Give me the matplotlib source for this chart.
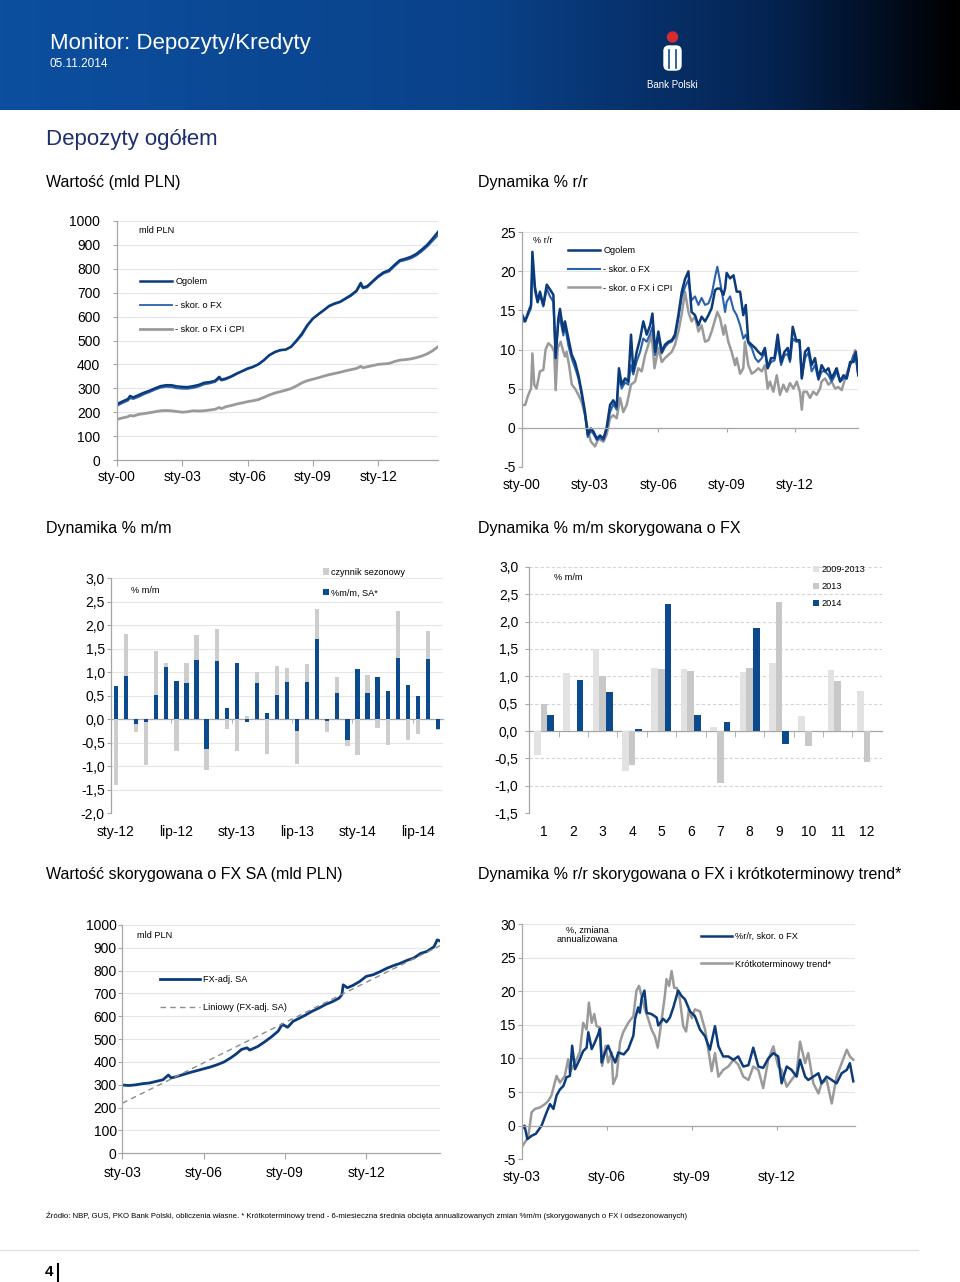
import matplotlib.pyplot as plt
import numpy as np
from matplotlib.colors import LinearSegmentedColormap
from matplotlib.patches import Circle, FancyBboxPatch, Patch
from matplotlib.lines import Line2D

plt.rcParams['font.family'] = ['Liberation Sans', 'DejaVu Sans']

W, H = 960, 1282
NAVY = '#0b3b7a'
BLUE = '#2a62ad'
GREY = '#9a9a9a'
BAR_BLUE = '#0c4a8e'
BAR_GREY = '#cdcdcd'
GRID = '#e6e6e6'
AXC = '#a6a6a6'

# --- Wartość (mld PLN), 2000-2014 ---
t1 = [2000.0, 2000.25, 2000.5, 2000.6, 2000.75, 2001.0, 2001.25, 2001.5, 2001.75, 2002.0,
      2002.25, 2002.5, 2002.75, 2003.0, 2003.25, 2003.5, 2003.75, 2004.0, 2004.25, 2004.5,
      2004.7, 2004.8, 2005.0, 2005.25, 2005.5, 2005.75, 2006.0, 2006.25, 2006.5, 2006.75,
      2007.0, 2007.25, 2007.5, 2007.75, 2008.0, 2008.25, 2008.5, 2008.75, 2009.0, 2009.25,
      2009.5, 2009.75, 2010.0, 2010.25, 2010.5, 2010.75, 2011.0, 2011.2, 2011.3, 2011.5,
      2011.75, 2012.0, 2012.25, 2012.5, 2012.75, 2013.0, 2013.25, 2013.5, 2013.75, 2014.0,
      2014.25, 2014.5, 2014.75]
dep_total = [234, 245, 255, 268, 262, 272, 282, 290, 300, 309, 313, 313, 308, 306, 305, 309,
             314, 323, 326, 331, 348, 336, 341, 350, 362, 372, 383, 390, 401, 418, 439, 452,
             460, 462, 474, 500, 529, 565, 592, 610, 627, 645, 655, 662, 676, 690, 708, 741,
             722, 727, 748, 769, 785, 794, 816, 836, 842, 850, 862, 880, 900, 926, 954]
dep_fx = [226, 238, 248, 258, 255, 264, 275, 284, 294, 302, 306, 305, 300, 298, 298, 301,
          307, 316, 320, 326, 340, 332, 337, 347, 359, 370, 380, 388, 399, 416, 437, 450,
          458, 461, 472, 496, 522, 560, 590, 608, 625, 642, 652, 660, 673, 686, 704, 733,
          718, 722, 744, 764, 780, 788, 810, 830, 836, 843, 855, 872, 892, 916, 940]
dep_cpi = [170, 176, 181, 186, 184, 191, 194, 198, 202, 206, 207, 206, 203, 200, 202, 206,
           205, 206, 209, 212, 220, 215, 223, 228, 234, 239, 244, 248, 253, 262, 272, 280,
           286, 292, 299, 310, 323, 332, 338, 344, 351, 357, 362, 367, 373, 378, 383, 392,
           386, 390, 395, 400, 402, 404, 412, 418, 420, 423, 428, 435, 444, 457, 474]

# --- Dynamika % r/r ---
t2 = [2000.0, 2000.15, 2000.29, 2000.41, 2000.47, 2000.58, 2000.7, 2000.8, 2000.95, 2001.1,
      2001.24, 2001.39, 2001.49, 2001.61, 2001.68, 2001.83, 2001.9, 2002.05, 2002.2, 2002.34,
      2002.49, 2002.63, 2002.78, 2002.9, 2003.04, 2003.15, 2003.3, 2003.44, 2003.59, 2003.73,
      2003.88, 2004.02, 2004.17, 2004.27, 2004.39, 2004.54, 2004.68, 2004.8, 2004.9, 2005.05,
      2005.2, 2005.34, 2005.49, 2005.64, 2005.74, 2005.86, 2006.0, 2006.15, 2006.29, 2006.44,
      2006.59, 2006.73, 2006.88, 2007.03, 2007.17, 2007.32, 2007.46, 2007.61, 2007.76, 2007.9,
      2008.05, 2008.2, 2008.34, 2008.49, 2008.59, 2008.71, 2008.86, 2008.93, 2009.0, 2009.15,
      2009.3, 2009.44, 2009.59, 2009.73, 2009.84, 2009.95, 2010.1, 2010.25, 2010.39, 2010.54,
      2010.68, 2010.8, 2010.95, 2011.1, 2011.24, 2011.39, 2011.54, 2011.68, 2011.78, 2011.9,
      2012.05, 2012.2, 2012.3, 2012.44, 2012.59, 2012.73, 2012.88, 2013.03, 2013.17, 2013.32,
      2013.47, 2013.61, 2013.76, 2013.83, 2013.98, 2014.13, 2014.27, 2014.42, 2014.57, 2014.67,
      2014.78]
yoy_total = [14.6, 13.6, 14.8, 15.7, 22.5, 18.0, 16.1, 17.4, 15.7, 18.3,
             17.7, 17.0, 8.9, 14.0, 15.2, 12.3, 13.6, 11.4, 9.3, 8.4,
             6.7, 4.6, 2.0, -0.9, -0.1, -0.5, -1.4, -1.0, -1.4, 0.0,
             2.9, 3.5, 2.7, 7.6, 5.5, 6.3, 5.9, 11.9, 7.2, 9.7,
             11.4, 13.6, 11.9, 13.1, 14.6, 9.7, 12.3, 9.7, 10.6, 11.0,
             11.2, 11.9, 14.4, 17.4, 19.0, 20.0, 14.8, 14.4, 13.1, 14.2,
             13.6, 14.4, 15.3, 17.6, 17.8, 17.8, 17.0, 17.8, 19.8, 19.1,
             19.5, 17.4, 17.4, 14.4, 15.7, 11.0, 10.6, 10.2, 9.7, 9.3,
             10.2, 7.6, 8.9, 8.9, 11.9, 8.4, 9.7, 10.2, 8.7, 12.9,
             11.2, 11.2, 6.3, 9.7, 10.2, 8.0, 8.9, 6.3, 8.0, 7.2,
             7.6, 6.3, 7.2, 7.6, 5.9, 6.7, 6.3, 8.4, 8.4, 9.7, 6.7]
yoy_fx = [13.6, 13.6, 14.5, 15.3, 21.5, 17.5, 16.0, 17.0, 15.5, 17.8,
          16.8, 16.1, 9.5, 13.5, 14.0, 11.8, 13.0, 10.5, 8.8, 7.7,
          6.3, 4.2, 1.6, -1.2, -0.4, -0.8, -1.6, -1.3, -1.6, -0.3,
          2.0, 3.0, 2.3, 6.7, 5.0, 5.8, 5.5, 8.0, 6.8, 8.5,
          9.7, 11.4, 11.0, 12.0, 12.9, 9.3, 11.6, 9.5, 10.3, 10.8,
          11.0, 11.6, 14.0, 16.8, 18.0, 18.9, 16.3, 16.8, 15.7, 16.6,
          15.7, 15.9, 17.0, 19.3, 20.6, 18.7, 16.1, 14.8, 16.1, 16.8,
          15.1, 14.4, 13.1, 11.4, 11.9, 10.8, 10.2, 8.9, 8.4, 8.9,
          9.7, 7.6, 8.4, 8.6, 10.6, 8.0, 9.3, 9.4, 8.4, 11.4,
          11.0, 11.0, 6.3, 8.9, 9.6, 7.2, 8.0, 6.1, 7.2, 7.2,
          6.7, 5.9, 6.7, 7.2, 5.9, 6.3, 6.3, 8.0, 9.3, 9.0, 6.7]
t2c = [2000.0, 2000.15, 2000.29, 2000.41, 2000.47, 2000.55, 2000.65, 2000.8, 2000.95, 2001.05,
       2001.17, 2001.32, 2001.43, 2001.49, 2001.58, 2001.71, 2001.83, 2001.9, 2001.97, 2002.08,
       2002.2, 2002.34, 2002.49, 2002.63, 2002.78, 2002.93, 2003.04, 2003.22, 2003.37, 2003.59,
       2003.73, 2003.88, 2004.02, 2004.17, 2004.32, 2004.46, 2004.61, 2004.8, 2004.98, 2005.12,
       2005.27, 2005.42, 2005.56, 2005.71, 2005.83, 2006.0, 2006.15, 2006.29, 2006.44, 2006.59,
       2006.73, 2006.88, 2007.03, 2007.17, 2007.32, 2007.46, 2007.61, 2007.76, 2007.9, 2008.05,
       2008.2, 2008.34, 2008.49, 2008.59, 2008.71, 2008.86, 2008.93, 2009.07, 2009.22, 2009.37,
       2009.44, 2009.59, 2009.73, 2009.8, 2009.95, 2010.1, 2010.25, 2010.39, 2010.54, 2010.68,
       2010.8, 2010.9, 2011.05, 2011.2, 2011.34, 2011.49, 2011.64, 2011.78, 2011.93, 2012.08,
       2012.22, 2012.3, 2012.37, 2012.52, 2012.66, 2012.8, 2012.95, 2013.1, 2013.17, 2013.32,
       2013.47, 2013.61, 2013.76, 2013.9, 2014.05, 2014.2, 2014.35, 2014.49, 2014.64, 2014.76]
yoy_cpi = [2.9, 2.9, 4.2, 5.0, 9.5, 5.5, 5.0, 7.2, 7.4, 10.0,
           10.8, 10.4, 9.7, 4.8, 10.2, 11.0, 9.7, 9.1, 9.7, 8.0,
           5.5, 5.0, 4.2, 3.3, 1.6, -0.7, -1.8, -2.4, -1.4, -1.8,
           -0.9, 1.2, 1.6, 1.2, 3.8, 2.0, 2.9, 5.5, 5.9, 7.6,
           7.2, 9.3, 10.6, 11.9, 7.6, 10.2, 8.4, 8.9, 9.3, 9.7,
           10.6, 12.3, 14.6, 17.4, 14.8, 13.6, 14.2, 12.3, 13.1, 11.0,
           11.2, 12.3, 13.8, 14.8, 14.0, 11.9, 13.1, 11.0, 9.7, 8.0,
           8.9, 6.9, 7.6, 11.0, 8.0, 6.9, 7.2, 7.6, 7.2, 8.0,
           5.0, 5.9, 4.6, 6.7, 4.2, 5.5, 4.6, 5.7, 5.0, 5.9,
           4.5, 2.3, 4.6, 4.6, 3.8, 4.6, 4.2, 5.0, 5.9, 6.3,
           5.5, 5.9, 5.0, 5.2, 4.8, 6.3, 7.6, 8.4, 9.9, 7.2]

# --- Dynamika % m/m, sty-12 .. wrz-14 ---
mm_sa = [0.71, 0.92, -0.10, -0.06, 0.52, 1.11, 0.82, 0.77, 1.26, -0.64, 1.24, 0.24,
         1.19, -0.05, 0.78, 0.13, 0.52, 0.80, -0.25, 0.79, 1.70, -0.03, 0.55, -0.43,
         1.06, 0.55, 0.91, 0.60, 1.30, 0.74, 0.50, 1.29, -0.21]
mm_seas = [-1.40, 0.89, -0.16, -0.91, 0.93, 0.08, -0.67, 0.42, 0.53, -0.44, 0.68, -0.21,
           -0.67, 0.06, 0.22, -0.74, 0.61, 0.29, -0.70, 0.38, 0.65, -0.25, 0.35, -0.14,
           -0.76, 0.39, -0.19, -0.55, 1.00, -0.43, -0.32, 0.59, -0.02]
mm_labels = ['sty-12', 'lip-12', 'sty-13', 'lip-13', 'sty-14', 'lip-14']

# --- Dynamika % m/m skorygowana o FX, by month ---
months = [str(m) for m in range(1, 13)]
fx_avg = [-0.44, 1.06, 1.49, -0.73, 1.15, 1.13, 0.07, 1.07, 1.25, 0.27, 1.11, 0.73]
fx_2013 = [0.50, 0.01, 1.00, -0.61, 1.13, 1.09, -0.95, 1.16, 2.36, -0.28, 0.91, -0.56]
fx_2014 = [0.29, 0.94, 0.71, 0.04, 2.32, 0.30, 0.17, 1.88, -0.23]

# --- Wartość skorygowana o FX SA ---
t5 = [2003.0, 2003.25, 2003.5, 2003.75, 2004.0, 2004.25, 2004.5, 2004.7, 2004.8, 2005.0,
      2005.25, 2005.5, 2005.75, 2006.0, 2006.25, 2006.5, 2006.75, 2007.0, 2007.2, 2007.4,
      2007.6, 2007.7, 2008.0, 2008.25, 2008.5, 2008.75, 2008.9, 2009.1, 2009.3, 2009.5,
      2009.75, 2010.0, 2010.25, 2010.5, 2010.75, 2011.0, 2011.1, 2011.15, 2011.3, 2011.5,
      2011.75, 2012.0, 2012.25, 2012.5, 2012.75, 2013.0, 2013.25, 2013.5, 2013.75, 2014.0,
      2014.25, 2014.5, 2014.62, 2014.72]
sa_level = [299, 297, 300, 305, 308, 315, 322, 343, 330, 336, 345, 354, 362, 370, 378, 388,
            400, 418, 435, 455, 462, 452, 468, 488, 510, 535, 565, 552, 578, 590, 605, 622,
            636, 652, 664, 680, 695, 738, 725, 735, 752, 775, 782, 795, 810, 822, 832, 845,
            855, 875, 885, 905, 935, 930]

# --- Dynamika % r/r skorygowana o FX i trend ---
t6b = [2003.0, 2003.1, 2003.2, 2003.35, 2003.5, 2003.7, 2003.88, 2004.0, 2004.12, 2004.23,
       2004.35, 2004.47, 2004.58, 2004.7, 2004.78, 2004.88, 2005.05, 2005.17, 2005.29, 2005.35,
       2005.47, 2005.58, 2005.7, 2005.76, 2005.82, 2005.94, 2006.05, 2006.17, 2006.3, 2006.41,
       2006.6, 2006.76, 2006.94, 2007.0, 2007.11, 2007.17, 2007.23, 2007.33, 2007.41, 2007.58,
       2007.76, 2007.82, 2007.99, 2008.11, 2008.23, 2008.35, 2008.52, 2008.64, 2008.76, 2008.94,
       2009.11, 2009.29, 2009.47, 2009.64, 2009.82, 2009.94, 2010.11, 2010.29, 2010.47, 2010.64,
       2010.82, 2011.0, 2011.17, 2011.35, 2011.52, 2011.7, 2011.88, 2012.05, 2012.17, 2012.35,
       2012.52, 2012.7, 2012.82, 2013.0, 2013.11, 2013.29, 2013.47, 2013.58, 2013.76, 2013.94,
       2014.11, 2014.29, 2014.47, 2014.58, 2014.7]
yoy_fx_sa = [-0.5, 0.0, -2.0, -1.5, -1.2, 0.0, 2.0, 3.2, 2.5, 4.5,
             5.4, 5.9, 7.2, 7.4, 11.9, 8.4, 9.9, 11.1, 11.6, 13.9,
             11.4, 12.4, 13.6, 14.4, 9.4, 10.9, 11.9, 10.6, 9.4, 10.9,
             10.6, 11.4, 13.4, 15.9, 17.6, 16.8, 18.9, 20.1, 16.8, 16.6,
             16.1, 14.9, 15.9, 15.4, 16.1, 17.6, 20.1, 19.3, 18.8, 17.0,
             16.3, 14.3, 13.3, 11.3, 14.8, 11.8, 10.3, 10.3, 9.8, 10.3,
             8.8, 9.0, 11.6, 8.8, 8.6, 10.0, 10.8, 10.3, 6.3, 8.8,
             8.3, 7.3, 9.8, 7.3, 6.8, 7.3, 7.8, 6.3, 7.3, 6.8,
             6.3, 7.8, 8.3, 9.3, 6.6]
t6g = [2003.0, 2003.11, 2003.23, 2003.35, 2003.47, 2003.64, 2003.82, 2003.94, 2004.05, 2004.23,
       2004.35, 2004.52, 2004.64, 2004.7, 2004.82, 2004.94, 2005.05, 2005.17, 2005.29, 2005.37,
       2005.47, 2005.56, 2005.64, 2005.76, 2005.84, 2005.96, 2006.05, 2006.17, 2006.23, 2006.35,
       2006.47, 2006.58, 2006.76, 2006.94, 2007.05, 2007.14, 2007.23, 2007.35, 2007.47, 2007.58,
       2007.7, 2007.8, 2007.94, 2008.05, 2008.11, 2008.2, 2008.29, 2008.38, 2008.47, 2008.58,
       2008.7, 2008.8, 2008.9, 2009.0, 2009.11, 2009.29, 2009.47, 2009.64, 2009.7, 2009.82,
       2009.94, 2010.11, 2010.29, 2010.47, 2010.64, 2010.82, 2011.0, 2011.17, 2011.35, 2011.52,
       2011.7, 2011.88, 2012.05, 2012.17, 2012.35, 2012.52, 2012.7, 2012.82, 2013.0, 2013.11,
       2013.29, 2013.47, 2013.58, 2013.76, 2013.94, 2014.11, 2014.29, 2014.47, 2014.58, 2014.7]
trend = [-3.2, -2.5, -1.7, 2.0, 2.5, 2.7, 3.2, 3.7, 4.5, 7.4,
         6.4, 7.4, 9.9, 7.9, 8.9, 9.9, 10.9, 15.3, 14.3, 18.3,
         15.3, 16.6, 14.8, 14.6, 8.9, 11.9, 9.4, 10.9, 6.2, 7.4,
         12.4, 13.9, 15.3, 16.3, 20.1, 20.8, 19.3, 17.3, 15.8, 14.3,
         13.3, 11.6, 15.8, 19.3, 21.8, 20.8, 23.0, 20.5, 20.5, 18.8,
         14.8, 14.0, 17.3, 16.0, 17.3, 17.0, 14.3, 9.8, 8.1, 10.8,
         7.3, 8.3, 8.8, 9.8, 9.1, 7.3, 6.8, 8.8, 8.3, 5.6,
         9.8, 11.8, 8.8, 8.3, 5.8, 6.8, 7.8, 12.5, 9.3, 10.8,
         6.3, 4.8, 6.3, 6.8, 3.3, 7.3, 9.3, 11.3, 10.3, 9.8]

source = ('Źródło: NBP, GUS, PKO Bank Polski, obliczenia własne. * Krótkoterminowy trend - '
          '6-miesieczna średnia obcięta annualizowanych zmian %m/m '
          '(skorygowanych o FX i odsezonowanych)')

fig = plt.figure(figsize=(W / 100, H / 100), dpi=100)


def box(l, t, r, b):
    return [l / W, 1 - b / H, (r - l) / W, (b - t) / H]


def ftext(x, y, s, **kw):
    kw.setdefault('va', 'center')
    fig.text(x / W, 1 - y / H, s, **kw)


def comma(v):
    return f'{v:.1f}'.replace('.', ',')


def style(ax, ylim, yticks, fmt=lambda v: str(int(v)), ypad=2, grid_ls='-'):
    ax.set_ylim(*ylim)
    ax.set_yticks(yticks)
    ax.set_yticklabels([fmt(v) for v in yticks])
    ax.grid(axis='y', color=GRID, lw=0.8, ls=grid_ls)
    ax.set_axisbelow(True)
    for s in ('top', 'right'):
        ax.spines[s].set_visible(False)
    for s in ('left', 'bottom'):
        ax.spines[s].set_color(AXC)
        ax.spines[s].set_linewidth(0.9)
    ax.tick_params(colors=AXC, labelcolor='black', labelsize=10, length=3, width=0.8)
    ax.tick_params(axis='y', pad=ypad)


def year_ticks(ax, years):
    ax.set_xticks(years)
    ax.set_xticklabels([f'sty-{y % 100:02d}' for y in years])


def zero_axis(ax, px_height, gap_px, ticklen_pt):
    # x axis line at 0, labels kept at the bottom of the plot
    ax.spines['bottom'].set_position(('data', 0))
    y0, y1 = ax.get_ylim()
    zero_px = (0 - y0) / (y1 - y0) * px_height
    ax.tick_params(axis='x', pad=(zero_px + gap_px) * 0.72 - ticklen_pt)


# header band
hdr = fig.add_axes(box(0, 0, W, 110))
hdr_cmap = LinearSegmentedColormap.from_list(
    'hdr', [(0, '#0c4f9f'), (0.5, '#0a428a'), (0.8, '#052453'), (1, '#000000')])
hdr.imshow(np.linspace(0, 1, 512)[None, :], aspect='auto', cmap=hdr_cmap)
hdr.set_axis_off()

logo = fig.add_axes(box(655, 25, 690, 75))
logo.set_xlim(655, 690)
logo.set_ylim(75, 25)
logo.set_axis_off()
logo.add_patch(Circle((672.5, 37), 5, color='#d52b32'))
logo.add_patch(FancyBboxPatch((664, 46), 17, 24, boxstyle='round,pad=0,rounding_size=5',
                              color='white'))
logo.plot([669, 669], [50, 68], color='#0c4a8e', lw=1.2)
logo.plot([676, 676], [50, 68], color='#0c4a8e', lw=1.2)

ftext(50, 43, 'Monitor: Depozyty/Kredyty', color='white', fontsize=16)
ftext(50, 64, '05.11.2014', color='white', fontsize=8.5)
ftext(672, 85, 'Bank Polski', color='white', fontsize=7, ha='center')

ftext(46, 139, 'Depozyty ogółem', color='#1e2f6e', fontsize=16)
ftext(46, 182, 'Wartość (mld PLN)', fontsize=11.5)
ftext(478, 182, 'Dynamika % r/r', fontsize=11.5)
ftext(46, 528, 'Dynamika % m/m', fontsize=11.5)
ftext(478, 528, 'Dynamika % m/m skorygowana o FX', fontsize=11.5)
ftext(46, 875, 'Wartość skorygowana o FX SA (mld PLN)', fontsize=11.5)
ftext(478, 875, 'Dynamika % r/r skorygowana o FX i krótkoterminowy trend*', fontsize=11.5)

leg_kw = dict(frameon=False, fontsize=6.6, loc='upper left', borderpad=0,
              borderaxespad=0, handletextpad=0.35)

# panel 1
ax1 = fig.add_axes(box(117, 221, 438, 460))
h_cpi, = ax1.plot(t1, dep_cpi, color=GREY, lw=2)
h_fx, = ax1.plot(t1, dep_fx, color=BLUE, lw=1.3)
h_tot, = ax1.plot(t1, dep_total, color=NAVY, lw=1.8)
style(ax1, (0, 1000), range(0, 1001, 100), ypad=9)
ax1.set_xlim(2000, 2014.75)
year_ticks(ax1, [2000, 2003, 2006, 2009, 2012])
ax1.tick_params(axis='x', length=4)
ax1.text(0.069, 0.962, 'mld PLN', transform=ax1.transAxes, fontsize=6.6, va='center')
ax1.legend([h_tot, h_fx, h_cpi], ['Ogolem', '- skor. o FX', '- skor. o FX i CPI'],
           bbox_to_anchor=(0.072, 0.765), handlelength=3.5, labelspacing=1.65, **leg_kw)

# panel 2
ax2 = fig.add_axes(box(521.7, 232.3, 858.3, 466.7))
h2c, = ax2.plot(t2c, yoy_cpi, color=GREY, lw=1.8)
h2f, = ax2.plot(t2, yoy_fx, color=BLUE, lw=1.5)
h2t, = ax2.plot(t2, yoy_total, color=NAVY, lw=1.8)
style(ax2, (-5, 25), range(-5, 26, 5), ypad=1.5)
ax2.set_xlim(2000, 2014.78)
year_ticks(ax2, [2000, 2003, 2006, 2009, 2012])
zero_axis(ax2, 466.7 - 232.3, 11, 3)
ax2.text(0.034, 0.963, '% r/r', transform=ax2.transAxes, fontsize=6.6, va='center')
ax2.legend([h2t, h2f, h2c], ['Ogolem', '- skor. o FX', '- skor. o FX i CPI'],
           bbox_to_anchor=(0.138, 0.94), handlelength=3.5, labelspacing=1.05, **leg_kw)

# panel 3
ax3 = fig.add_axes(box(111, 578.3, 443, 813.3))
x3 = np.arange(len(mm_sa))
sa3 = np.array(mm_sa)
seas3 = np.array(mm_seas)
seas_bottom = np.where(np.sign(seas3) == np.sign(sa3), sa3, 0)
b_sa = ax3.bar(x3, sa3, width=0.42, color=BAR_BLUE, zorder=3)
b_seas = ax3.bar(x3, seas3, bottom=seas_bottom, width=0.42, color=BAR_GREY, zorder=3)
style(ax3, (-2, 3), np.arange(-2, 3.01, 0.5), fmt=comma, ypad=1.5)
ax3.set_xlim(-0.5, len(mm_sa) - 0.5)
ax3.set_xticks(np.arange(0, len(mm_sa), 6))
ax3.set_xticklabels(mm_labels)
ax3.set_xticks(np.arange(5.5, len(mm_sa), 6), minor=True)
ax3.tick_params(axis='x', which='major', length=0)
ax3.tick_params(axis='x', which='minor', length=3, color=AXC)
zero_axis(ax3, 813.3 - 578.3, 11.5, 0)
ax3.text(0.06, 0.946, '% m/m', transform=ax3.transAxes, fontsize=6.6, va='center')
ax3.legend([b_seas, b_sa], ['czynnik sezonowy', '%m/m, SA*'], bbox_to_anchor=(0.638, 1.045),
           handlelength=0.65, handleheight=0.65, labelspacing=1.3, handletextpad=0.2,
           **{k: v for k, v in leg_kw.items() if k != 'handletextpad'})

# panel 4
ax4 = fig.add_axes(box(529.3, 566.7, 881.7, 813.3))
x4 = np.arange(12)
bw = 0.227
b_avg = ax4.bar(x4 - bw, fx_avg, width=bw, color='#e2e2e2', zorder=3)
b_13 = ax4.bar(x4, fx_2013, width=bw, color='#c8c8c8', zorder=3)
b_14 = ax4.bar(x4[:len(fx_2014)] + bw, fx_2014, width=bw, color=BAR_BLUE, zorder=3)
style(ax4, (-1.5, 3), np.arange(-1.5, 3.01, 0.5), fmt=comma, ypad=5, grid_ls=(0, (3, 2)))
ax4.grid(axis='y', color='#d4d4d4', lw=0.8, ls=(0, (3, 2)))
ax4.set_xlim(-0.5, 11.5)
ax4.set_xticks(x4)
ax4.set_xticklabels(months)
ax4.set_xticks(np.arange(0.5, 11, 1), minor=True)
ax4.tick_params(axis='x', which='major', length=0)
ax4.tick_params(axis='x', which='minor', length=4, color=AXC)
zero_axis(ax4, 813.3 - 566.7, 11.5, 0)
ax4.text(0.07, 0.958, '% m/m', transform=ax4.transAxes, fontsize=6.6, va='center')
ax4.legend([b_avg, b_13, b_14], ['2009-2013', '2013', '2014'], bbox_to_anchor=(0.805, 1.005),
           handlelength=0.65, handleheight=0.65, labelspacing=0.85, handletextpad=0.25,
           **{k: v for k, v in leg_kw.items() if k != 'handletextpad'})

# panel 5
ax5 = fig.add_axes(box(122.3, 925, 440, 1153.3))
coef = np.polyfit(t5, sa_level, 1)
trend_x = np.array([2003.0, 2014.72])
h5l, = ax5.plot(t5, sa_level, color=NAVY, lw=2)
h5t, = ax5.plot(trend_x, np.polyval(coef, trend_x), color='#8c8c8c', lw=1,
                ls=(0, (4, 3)))
style(ax5, (0, 1000), range(0, 1001, 100), ypad=1)
ax5.set_xlim(2003, 2014.72)
year_ticks(ax5, [2003, 2006, 2009, 2012])
ax5.tick_params(axis='x', length=4, pad=5)
ax5.text(0.046, 0.956, 'mld PLN', transform=ax5.transAxes, fontsize=6.6, va='center')
ax5.legend([h5l, h5t], ['FX-adj. SA', 'Liniowy (FX-adj. SA)'], bbox_to_anchor=(0.119, 0.78),
           handlelength=4.3, labelspacing=2.1, **leg_kw)

# panel 6
ax6 = fig.add_axes(box(521.7, 924, 855, 1159.3))
h6g, = ax6.plot(t6g, trend, color=GREY, lw=1.8)
h6b, = ax6.plot(t6b, yoy_fx_sa, color=NAVY, lw=1.8)
style(ax6, (-5, 30), range(-5, 31, 5), ypad=1.5)
ax6.set_xlim(2003, 2014.76)
year_ticks(ax6, [2003, 2006, 2009, 2012])
zero_axis(ax6, 1159.3 - 924, 10.5, 3)
ax6.text(0.196, 0.955, '%, zmiana\nannualizowana', transform=ax6.transAxes, fontsize=6.6,
         ha='center', va='center', linespacing=1.0)
ax6.legend([h6b, h6g], ['%r/r, skor. o FX', 'Krótkoterminowy trend*'],
           bbox_to_anchor=(0.538, 0.965), handlelength=3.4, labelspacing=2.0, **leg_kw)

# footer
ftext(46, 1216, source, fontsize=5.6)
fig.add_artist(Line2D([0, 918 / W], [1 - 1250 / H] * 2, color='#e2e2e2', lw=1))
ftext(45, 1272, '4', fontsize=11, fontweight='bold')
fig.add_artist(Line2D([58 / W, 58 / W], [1 - 1264 / H, 1 - 1281 / H], color='black', lw=1.5))

fig.savefig('out.png', dpi=100)
